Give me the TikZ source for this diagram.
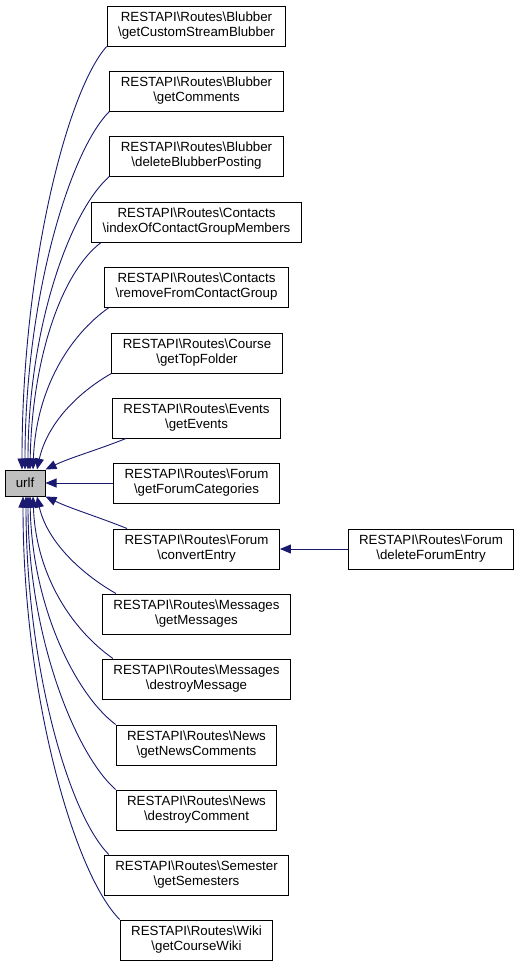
\documentclass[tikz,border=0pt]{standalone}
\usepackage{fontspec}
\setmainfont{Liberation Sans}
\usetikzlibrary{arrows.meta}

\newcommand{\bsl}{\textbackslash}
\definecolor{edgeblue}{HTML}{191970}
\definecolor{focusgray}{HTML}{BFBFBF}

\tikzset{
	fnbox/.style={draw=black, line width=1pt, fill=white, align=center, inner xsep=11pt,
		minimum height=40pt, font=\fontsize{13.3}{15}\selectfont},
	focusbox/.style={fnbox, fill=focusgray, minimum width=40pt, minimum height=26pt, inner xsep=4pt},
	calledby/.style={draw=edgeblue, line width=0.9pt, -{Triangle[length=11pt,width=9pt]}}
}

\begin{document}
\begin{tikzpicture}[x=1pt, y=-1pt]
			
			% Page frame
			\useasboundingbox (0,0) rectangle (520,967);
			
			% The function itself
			\node[focusbox] (urlf) at (25,483) {urlf};
			
			% Callers
			\node[fnbox] (blubstream) at (196.5,26) {RESTAPI\bsl Routes\bsl Blubber\\\bsl getCustomStreamBlubber};
			\node[fnbox] (blubcomments) at (196.5,91) {RESTAPI\bsl Routes\bsl Blubber\\\bsl getComments};
			\node[fnbox] (blubdelete) at (196.5,156) {RESTAPI\bsl Routes\bsl Blubber\\\bsl deleteBlubberPosting};
			\node[fnbox] (contindex) at (196.5,222) {RESTAPI\bsl Routes\bsl Contacts\\\bsl indexOfContactGroupMembers};
			\node[fnbox] (contremove) at (196.5,287) {RESTAPI\bsl Routes\bsl Contacts\\\bsl removeFromContactGroup};
			\node[fnbox] (coursetop) at (197,353) {RESTAPI\bsl Routes\bsl Course\\\bsl getTopFolder};
			\node[fnbox] (eventsget) at (196.5,418) {RESTAPI\bsl Routes\bsl Events\\\bsl getEvents};
			\node[fnbox] (forumcats) at (196.5,483) {RESTAPI\bsl Routes\bsl Forum\\\bsl getForumCategories};
			\node[fnbox] (forumconvert) at (196.5,549) {RESTAPI\bsl Routes\bsl Forum\\\bsl convertEntry};
			\node[fnbox] (msgget) at (196.5,614) {RESTAPI\bsl Routes\bsl Messages\\\bsl getMessages};
			\node[fnbox] (msgdestroy) at (196.5,679) {RESTAPI\bsl Routes\bsl Messages\\\bsl destroyMessage};
			\node[fnbox] (newscomments) at (196.5,745) {RESTAPI\bsl Routes\bsl News\\\bsl getNewsComments};
			\node[fnbox] (newsdestroy) at (196.5,810) {RESTAPI\bsl Routes\bsl News\\\bsl destroyComment};
			\node[fnbox] (semget) at (196.5,875) {RESTAPI\bsl Routes\bsl Semester\\\bsl getSemesters};
			\node[fnbox] (wikiget) at (196.5,940) {RESTAPI\bsl Routes\bsl Wiki\\\bsl getCourseWiki};
			\node[fnbox] (forumdelete) at (431,549) {RESTAPI\bsl Routes\bsl Forum\\\bsl deleteForumEntry};
			
			% Calls from above
			\draw[calledby] (blubstream.south west) .. controls +(-40,45) and +(0,-200) .. ([xshift=-3pt]urlf.north);
			\draw[calledby] (blubcomments.south west) .. controls +(-40,40) and +(0,-170) .. ([xshift=0pt]urlf.north);
			\draw[calledby] (blubdelete.south west) .. controls +(-40,35) and +(0,-140) .. ([xshift=3pt]urlf.north);
			\draw[calledby] ([xshift=10pt]contindex.south west) .. controls +(-40,30) and +(2,-110) .. ([xshift=5pt]urlf.north);
			\draw[calledby] ([xshift=5pt]contremove.south west) .. controls +(-40,28) and +(3,-80) .. ([xshift=8pt]urlf.north);
			\draw[calledby] (coursetop.south west) .. controls +(-35,20) and +(10,-45) .. ([xshift=12pt]urlf.north);
			\draw[calledby] ([xshift=14pt]eventsget.south west) .. controls +(-30,12) and +(25,-12) .. (urlf.north east);
			
			% Straight and from below
			\draw[calledby] (forumcats.west) -- (urlf.east);
			\draw[calledby] ([xshift=14pt]forumconvert.north west) .. controls +(-30,-12) and +(25,12) .. (urlf.south east);
			\draw[calledby] ([xshift=14pt]msgget.north west) .. controls +(-35,-20) and +(10,45) .. ([xshift=12pt]urlf.south);
			\draw[calledby] ([xshift=11pt]msgdestroy.north west) .. controls +(-40,-28) and +(3,80) .. ([xshift=8pt]urlf.south);
			\draw[calledby] (newscomments.north west) .. controls +(-40,-30) and +(2,110) .. ([xshift=5pt]urlf.south);
			\draw[calledby] (newsdestroy.north west) .. controls +(-40,-35) and +(0,140) .. ([xshift=3pt]urlf.south);
			\draw[calledby] ([xshift=5pt]semget.north west) .. controls +(-40,-40) and +(0,170) .. ([xshift=1pt]urlf.south);
			\draw[calledby] (wikiget.north west) .. controls +(-45,-45) and +(0,200) .. ([xshift=-2pt]urlf.south);
			
			% Second level
			\draw[calledby] (forumdelete.west) -- (forumconvert.east);
		\end{tikzpicture}
\end{document}
